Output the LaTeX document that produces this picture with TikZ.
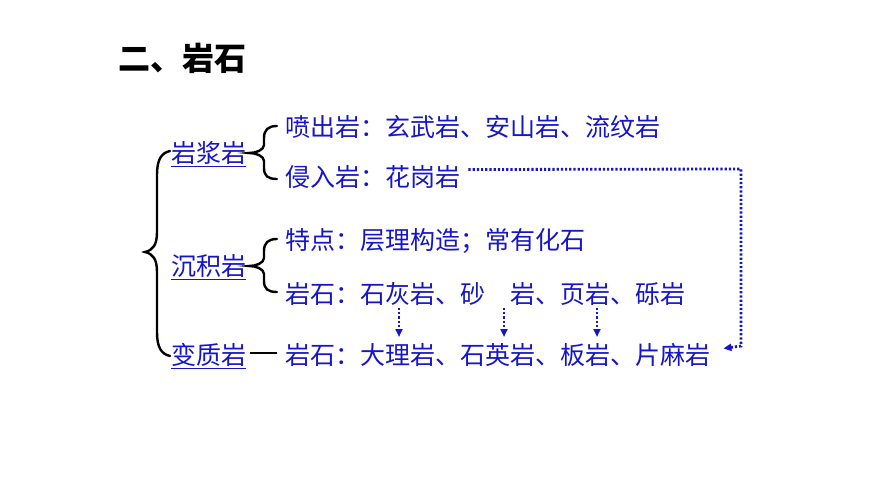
\documentclass[tikz,border=0pt]{standalone}
\usepackage{fontspec}
\newfontfamily\cjk{Noto Sans CJK SC}
\usetikzlibrary{arrows.meta}
\definecolor{tblue}{RGB}{22,22,200}
\begin{document}
\begin{tikzpicture}[x=1pt,y=-1pt,
 txt/.style={anchor=base west,inner sep=0pt,text=tblue,font=\cjk\fontsize{25}{30}\selectfont},
 ttl/.style={anchor=base west,inner sep=0pt,font=\cjk\bfseries\fontsize{32}{38}\selectfont},
 bracestroke/.style={line width=2.4pt,black,line cap=round},
 dotline/.style={tblue,line width=2.8pt,dash pattern=on 2.2pt off 2pt},
 tipd/.style={-{Triangle[length=8pt,width=7pt]}},
 uline/.style={tblue,line width=1pt}]
\useasboundingbox[fill=white] (0,0) rectangle (870,489);
% title
\node[ttl] (title) at (118,71) {二、岩石};
% labels
\node[txt] (yj) at (171,163) {岩浆岩};
\node[txt] (cj) at (171,275) {沉积岩};
\node[txt] (bz) at (171,364) {变质岩};
\foreach \n in {yj,cj,bz}{
  \draw[uline] ([yshift=-4pt]\n.base west) -- ([yshift=-4pt]\n.base east);
}
% lines
\node[txt] (l1) at (285,137) {喷出岩：玄武岩、安山岩、流纹岩};
\node[txt] (l2) at (285,187) {侵入岩：花岗岩};
\node[txt] (l3) at (285,250) {特点：层理构造；常有化石};
\node[txt] (l4) at (285,303) {岩石：石灰岩、砂　岩、页岩、砾岩};
\node[txt] (l5) at (285,364) {岩石：大理岩、石英岩、板岩、片麻岩};
% big brace
\draw[bracestroke] (170,151) .. controls (161,153) and (157,160) .. (157,175)
  -- (157,232) .. controls (157,245) and (153,250) .. (145,252)
  .. controls (153,254) and (157,259) .. (157,272)
  -- (157,332) .. controls (157,347) and (161,354) .. (170,356);
% small brace 1
\draw[bracestroke] (277,126) .. controls (268,126) and (264,130) .. (264,138)
  -- (264,145) .. controls (264,150) and (256,153) .. (249,153)
  .. controls (256,153) and (264,156) .. (264,161)
  -- (264,168) .. controls (264,176) and (268,179) .. (277,179);
% small brace 2
\draw[bracestroke] (277,239) .. controls (268,239) and (264,243) .. (264,251)
  -- (264,258) .. controls (264,263) and (256,266) .. (249,266)
  .. controls (256,266) and (264,269) .. (264,274)
  -- (264,281) .. controls (264,289) and (268,292) .. (277,292);
% dash after 变质岩
\draw[line width=2.8pt,black] (250,353) -- (277,353);
% dotted connectors
\coordinate (c1) at (741,169);
\coordinate (c2) at (741,346);
\draw[dotline,tipd] ([xshift=8pt,yshift=8pt]l2.east) -- (c1) -- (c2) -- ([xshift=13pt,yshift=6pt]l5.east);
\coordinate (a1) at (399,308); \coordinate (b1) at (399,337);
\coordinate (a2) at (504,308); \coordinate (b2) at (504,337);
\coordinate (a3) at (597,308); \coordinate (b3) at (597,337);
\draw[dotline,tipd] (a1) -- (b1);
\draw[dotline,tipd] (a2) -- (b2);
\draw[dotline,tipd] (a3) -- (b3);
\end{tikzpicture}
\end{document}
